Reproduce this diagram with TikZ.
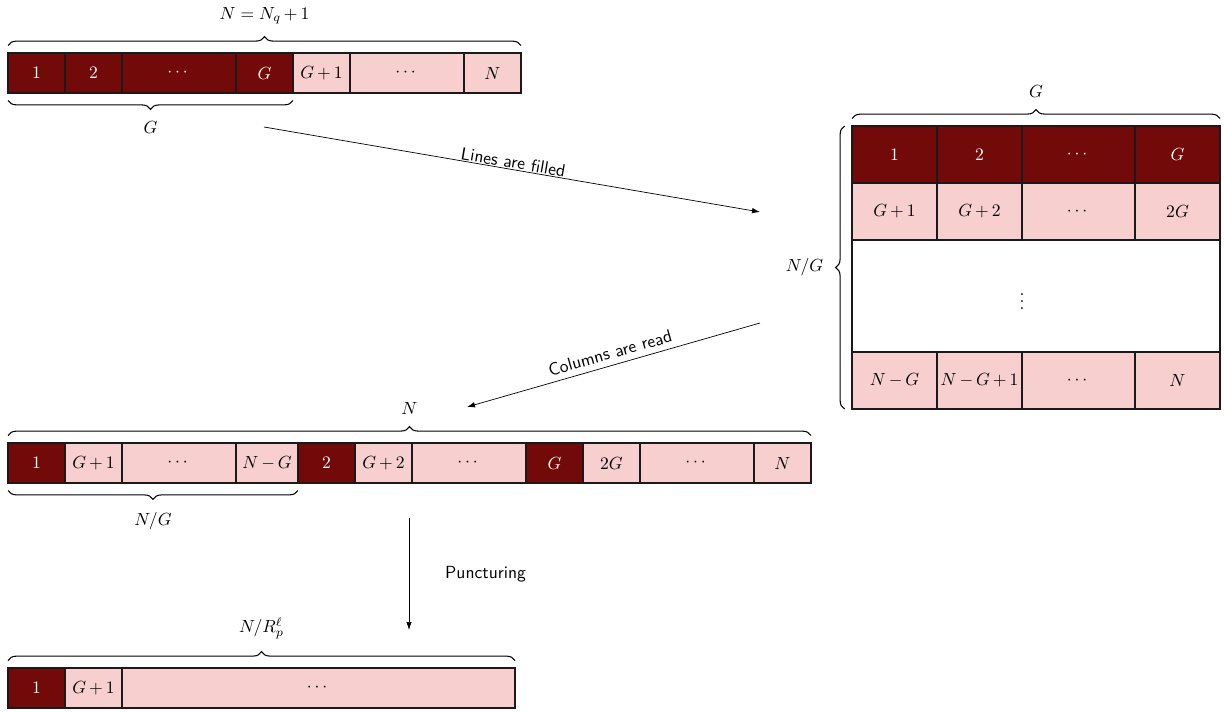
\documentclass[tikz,border=0pt]{standalone}
\usepackage{amsmath,amssymb}
\usepackage{xcolor}
\usepackage{tikz}
\usetikzlibrary{positioning,arrows.meta,decorations.pathreplacing,calc}
\definecolor{ink}{HTML}{1A1A1A}
\definecolor{bordeaux}{HTML}{730A0A}
\definecolor{rose}{HTML}{F7CFCF}
\medmuskip=3mu plus 1mu minus 2mu
\tikzset{
  cell/.style={draw=ink, semithick, inner sep=0pt, outer sep=0pt,
               minimum width=11.4mm, minimum height=8mm},
  wide/.style={minimum width=22.8mm},
  dk/.style={cell, fill=bordeaux, text=white},
  lt/.style={cell, fill=rose},
  mcell/.style={minimum width=17mm, minimum height=11.4mm},
  mwide/.style={minimum width=22.6mm},
  brc/.style={decorate, decoration={brace, amplitude=5pt}, semithick},
  ar/.style={-{Latex[length=1.6mm, width=1.1mm]}, thin},
  lbl/.style={font=\sffamily},
}

\begin{document}
\begin{tikzpicture}
\useasboundingbox (0,0) rectangle (24.48,14.22);

% --- WORD: N = N_q + 1 ---
\node[dk, anchor=west] (l1) at (0.16,12.76) {$1$};
\node[dk, right=0mm of l1] (l2) {$2$};
\node[dk, wide, right=0mm of l2] (l3) {$\cdots$};
\node[dk, right=0mm of l3] (l4) {$G$};
\node[lt, right=0mm of l4] (l5) {$G+1$};
\node[lt, wide, right=0mm of l5] (l6) {$\cdots$};
\node[lt, right=0mm of l6] (l7) {$N$};
\draw[brc] ([yshift=1.5mm]l1.north west) -- node[above=3mm] {$N = N_q + 1$} ([yshift=1.5mm]l7.north east);
\draw[brc] ([yshift=-1.5mm]l4.south east) -- node[below=3mm] {$G$} ([yshift=-1.5mm]l1.south west);

% --- MATRIX: G columns, N/G lines ---
\node[dk, mcell, anchor=north west] (m11) at (17.04,11.7) {$1$};
\node[dk, mcell, right=0mm of m11] (m12) {$2$};
\node[dk, mcell, mwide, right=0mm of m12] (m13) {$\cdots$};
\node[dk, mcell, right=0mm of m13] (m14) {$G$};
\node[lt, mcell, below=0mm of m11] (m21) {$G+1$};
\node[lt, mcell, below=0mm of m12] (m22) {$G+2$};
\node[lt, mcell, mwide, below=0mm of m13] (m23) {$\cdots$};
\node[lt, mcell, below=0mm of m14] (m24) {$2G$};
\node[cell, fill=white, minimum width=73.6mm, minimum height=22.4mm,
      below=0mm of m21.south west, anchor=north west] (mgap) {};
\node (mdots) at (m22.south east |- mgap.center) {$\vdots$};
\node[lt, mcell, below=0mm of mgap.south west, anchor=north west] (m41) {$N-G$};
\node[lt, mcell, right=0mm of m41] (m42) {$N-G+1$};
\node[lt, mcell, mwide, right=0mm of m42] (m43) {$\cdots$};
\node[lt, mcell, right=0mm of m43] (m44) {$N$};
\draw[brc] ([yshift=1.5mm]m11.north west) -- node[above=3mm] {$G$} ([yshift=1.5mm]m14.north east);
\draw[brc] ([xshift=-1.5mm]m41.south west) -- node[left=3mm] {$N/G$} ([xshift=-1.5mm]m11.north west);

% --- READ OUT: column by column ---
\node[dk, anchor=west] (c1) at (0.16,4.96) {$1$};
\node[lt, right=0mm of c1] (c2) {$G+1$};
\node[lt, wide, right=0mm of c2] (c3) {$\cdots$};
\node[lt, minimum width=12.4mm, right=0mm of c3] (c4) {$N-G$};
\node[dk, right=0mm of c4] (c5) {$2$};
\node[lt, right=0mm of c5] (c6) {$G+2$};
\node[lt, wide, right=0mm of c6] (c7) {$\cdots$};
\node[dk, right=0mm of c7] (c8) {$G$};
\node[lt, right=0mm of c8] (c9) {$2G$};
\node[lt, wide, right=0mm of c9] (c10) {$\cdots$};
\node[lt, right=0mm of c10] (c11) {$N$};
\draw[brc] ([yshift=1.5mm]c1.north west) -- node[above=3mm] {$N$} ([yshift=1.5mm]c11.north east);
\draw[brc] ([yshift=-1.5mm]c4.south east) -- node[below=3mm] {$N/G$} ([yshift=-1.5mm]c1.south west);

% --- PUNCTURED WORD ---
\node[dk, anchor=west] (p1) at (0.16,0.46) {$1$};
\node[lt, right=0mm of p1] (p2) {$G+1$};
\node[lt, minimum width=78.6mm, right=0mm of p2] (p3) {$\cdots$};
\draw[brc] ([yshift=1.5mm]p1.north west) -- node[above=3mm] {$N/R_p^{\ell}$} ([yshift=1.5mm]p3.north east);

% --- ARROWS ---
\coordinate (lf0) at (5.28,11.68);
\coordinate (lf1) at (15.2,9.98);
\coordinate (cr0) at (15.2,7.76);
\coordinate (cr1) at (9.34,6.08);
\coordinate (pc0) at (8.18,3.86);
\coordinate (pc1) at (8.18,1.62);
\draw[ar] (lf0) -- node[lbl, above, sloped, inner sep=0.5pt] {Lines are filled} (lf1);
\draw[ar] (cr0) -- node[lbl, above, sloped] {Columns are read} (cr1);
\draw[ar] (pc0) -- node[lbl, right=6mm] {Puncturing} (pc1);

\end{tikzpicture}
\end{document}
